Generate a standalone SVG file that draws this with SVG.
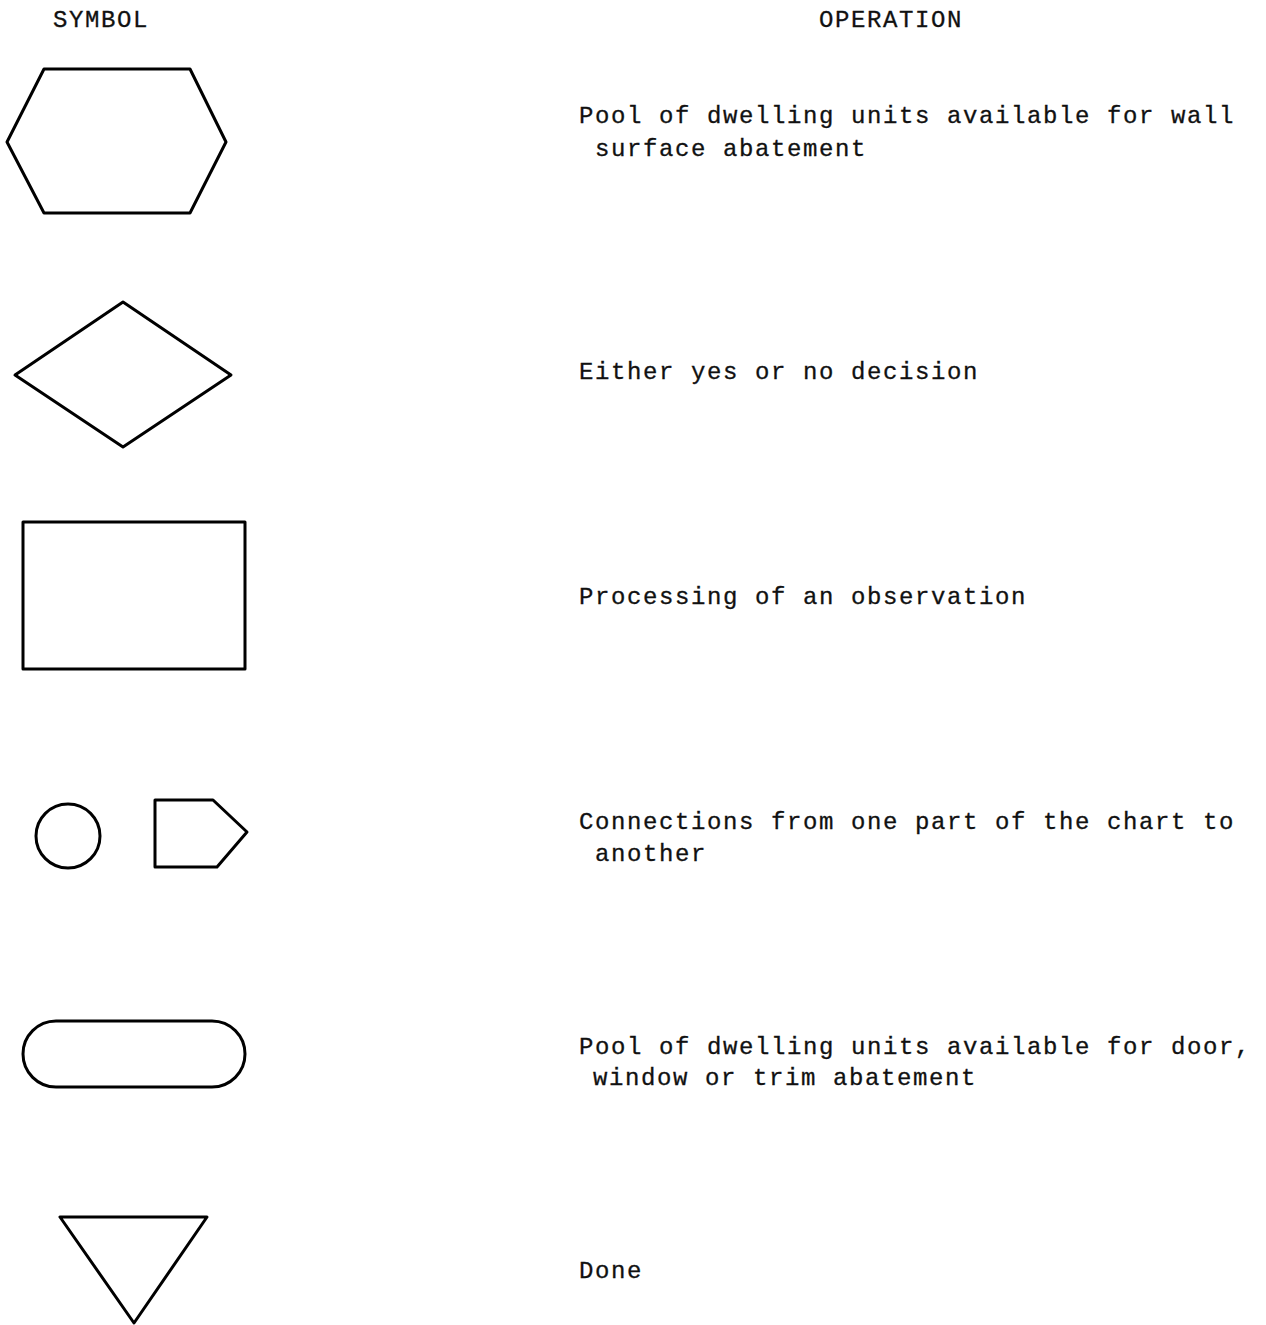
<svg xmlns="http://www.w3.org/2000/svg" width="1266" height="1325" viewBox="0 0 1266 1325">
<style>
.s{fill:none;stroke:#000;stroke-width:3;stroke-linejoin:round}
text{font-family:"Liberation Mono","DejaVu Sans Mono",monospace;font-size:24px;letter-spacing:1.6px;fill:#111;stroke:#111;stroke-width:0.3}
</style>
<rect width="1266" height="1325" fill="#fff"/>
<text x="53" y="27">SYMBOL</text>
<text x="819" y="27">OPERATION</text>
<g id="hexagon"><polygon class="s" points="44,69 190,69 226,142 190,213 44,213 7,142"/></g>
<g id="diamond"><polygon class="s" points="123,302 231,375 123,447 15,375"/></g>
<g id="rectangle"><rect class="s" x="23" y="522" width="222" height="147"/></g>
<g id="circle"><circle class="s" cx="68" cy="836" r="32"/></g>
<g id="pentagon"><polygon class="s" points="155,800 213,800 247,832 217,867 155,867"/></g>
<g id="stadium"><rect class="s" x="23" y="1021" width="222" height="66" rx="33"/></g>
<g id="triangle"><polygon class="s" points="60,1217 207,1217 134,1323"/></g>
<g id="labels">
<text x="579" y="123">Pool of dwelling units available for wall</text>
<text x="595" y="156">surface abatement</text>
<text x="579" y="379">Either yes or no decision</text>
<text x="579" y="604">Processing of an observation</text>
<text x="579" y="829">Connections from one part of the chart to</text>
<text x="595" y="861">another</text>
<text x="579" y="1054">Pool of dwelling units available for door,</text>
<text x="593" y="1085">window or trim abatement</text>
<text x="579" y="1278">Done</text>
</g>
<g id="connectors"></g>
</svg>
